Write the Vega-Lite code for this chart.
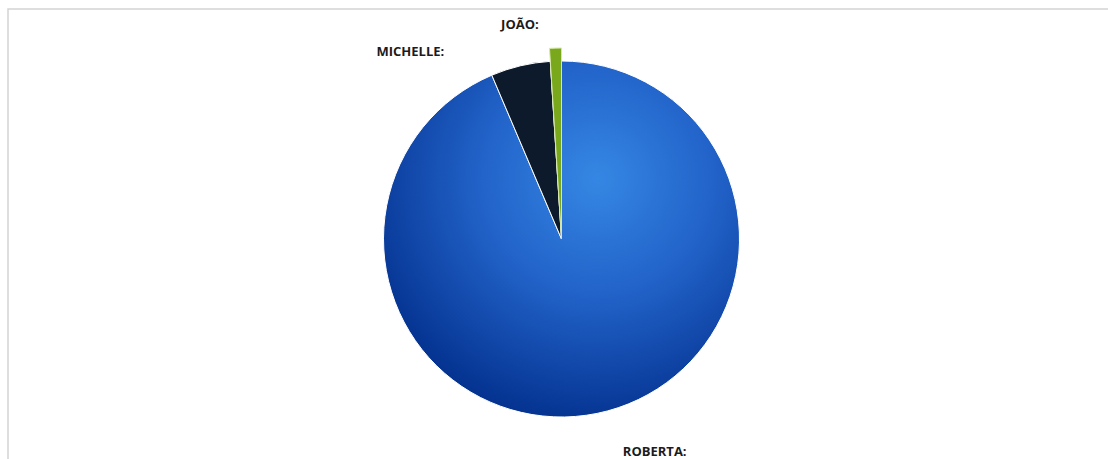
{
  "$schema": "https://vega.github.io/schema/vega-lite/v6.json",
  "width": 1107,
  "height": 460,
  "autosize": {"type": "none"},
  "padding": {"left": 8, "top": 9, "right": -7, "bottom": -10},
  "background": "white",
  "view": {"stroke": "#d3d3d3", "strokeWidth": 1.5, "fill": "white"},
  "data": {"values": [
    {"name": "ROBERTA", "value": 93.6},
    {"name": "MICHELLE", "value": 5.4},
    {"name": "JOÃO", "value": 1.0}
  ]},
  "transform": [{"calculate": "datum.name + ':'", "as": "label"}],
  "encoding": {
    "theta": {"field": "value", "type": "quantitative", "stack": true},
    "order": {"field": "value", "type": "quantitative", "sort": "descending"}
  },
  "layer": [
    {
      "mark": {"type": "arc", "radius": 178, "stroke": "#ffffff", "strokeWidth": 1},
      "encoding": {
        "fill": {
          "condition": [
            {"test": "datum.name === 'ROBERTA'", "value": {"gradient": "radial", "x1": 0.6, "y1": 0.33, "r1": 0, "x2": 0.6, "y2": 0.33, "r2": 0.72, "stops": [{"offset": 0, "color": "#3587e4"}, {"offset": 0.45, "color": "#2263c9"}, {"offset": 1, "color": "#022f8c"}]}},
            {"test": "datum.name === 'MICHELLE'", "value": "#0c1a2c"}
          ],
          "value": "transparent"
        }
      }
    },
    {
      "mark": {"type": "arc", "radius": 191, "strokeWidth": 1},
      "encoding": {
        "fill": {"condition": {"test": "datum.name === 'JOÃO'", "value": "#79a81c"}, "value": "transparent"},
        "stroke": {"condition": {"test": "datum.name === 'JOÃO'", "value": "#d6e8a6"}, "value": "transparent"}
      }
    },
    {
      "mark": {"type": "text", "radius": 217, "align": "left", "baseline": "middle", "dx": 18, "font": "Open Sans", "fontWeight": "bold", "fontSize": 13, "color": "#1b1b1b"},
      "encoding": {"text": {"condition": {"test": "datum.name === 'ROBERTA'", "field": "label"}, "value": ""}}
    },
    {
      "mark": {"type": "text", "radius": 192, "align": "right", "baseline": "middle", "dx": -73, "font": "Open Sans", "fontWeight": "bold", "fontSize": 13, "color": "#1b1b1b"},
      "encoding": {"text": {"condition": {"test": "datum.name === 'MICHELLE'", "field": "label"}, "value": ""}}
    },
    {
      "mark": {"type": "text", "radius": 214, "align": "right", "baseline": "middle", "dx": -16, "font": "Open Sans", "fontWeight": "bold", "fontSize": 13, "color": "#1b1b1b"},
      "encoding": {"text": {"condition": {"test": "datum.name === 'JOÃO'", "field": "label"}, "value": ""}}
    }
  ]
}
